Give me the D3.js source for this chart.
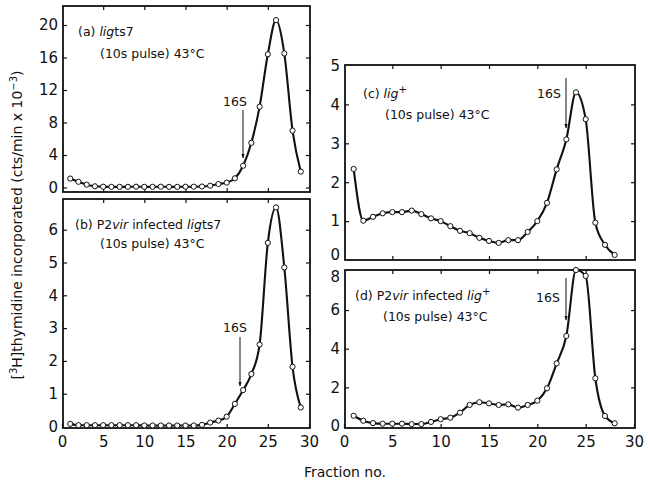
<!DOCTYPE html>
<html><head><meta charset="utf-8">
<script src="https://cdn.jsdelivr.net/npm/d3@7"></script>
<style>body{margin:0;background:#fff}svg{display:block}text{font-family:"DejaVu Sans",sans-serif;fill:#111}</style>
</head><body><svg id="c" width="648" height="482"></svg>
<script>
// ---------- data ----------
const fractionsLeft = [1,2,3,4,5,6,7,8,9,10,11,12,13,14,15,16,17,18,19,20,21,22,23,24,25,26,27,28,29];
const fractionsRight = [1,2,3,4,5,6,7,8,9,10,11,12,13,14,15,16,17,18,19,20,21,22,23,24,25,26,27,28];
const valuesA = [1.1,0.7,0.35,0.15,0.1,0.08,0.08,0.08,0.1,0.08,0.08,0.1,0.08,0.08,0.1,0.1,0.12,0.22,0.43,0.6,1.13,2.68,5.5,9.95,16.4,20.6,16.5,7.0,1.95];
const valuesB = [0.08,0.04,0.04,0.04,0.04,0.04,0.04,0.04,0.04,0.03,0.03,0.03,0.03,0.03,0.03,0.03,0.05,0.12,0.18,0.3,0.69,1.11,1.6,2.5,5.6,6.68,4.85,1.82,0.58];
const valuesC = [2.34,1.01,1.11,1.2,1.23,1.23,1.27,1.18,1.07,1.0,0.87,0.75,0.69,0.57,0.49,0.44,0.51,0.51,0.72,1.0,1.47,2.33,3.1,4.31,3.62,0.96,0.39,0.13];
const valuesD = [0.53,0.27,0.15,0.12,0.12,0.12,0.1,0.1,0.21,0.35,0.43,0.69,1.09,1.23,1.17,1.09,1.12,0.95,1.09,1.31,1.95,3.24,4.66,8.07,7.77,2.47,0.52,0.14];
const xTicks = [0,5,10,15,20,25,30];
const yTicksA = [0,4,8,12,16,20];
const yTicksB = [0,1,2,3,4,5,6];
const yTicksC = [0,1,2,3,4,5];
const yTicksD = [0,2,4,6,8];

const svg = d3.select("#c");
svg.append("defs").append("marker").attr("id","ah").attr("viewBox","0 0 10 10")
  .attr("refX",9).attr("refY",5).attr("markerWidth",5).attr("markerHeight",7).attr("orient","auto")
  .append("path").attr("d","M0,1.5L10,5L0,8.5").attr("fill","#111");

const panels = [
  {fx:[63,310], fy:[6,192], xr:[62,309], yd:[0,20], yr:[187.5,25], yt:yTicksA, fr:fractionsLeft, v:valuesA, lbl:false, nudgeTop:0, nudgeBot:0,
   l1:[{t:"(a) "},{t:"lig",i:1},{t:"ts7"}], l1p:[78,36], l2p:[100,58], s16:[223,106], ar:[243,110,158]},
  {fx:[63,310], fy:[199,428], xr:[62,309], yd:[0,6], yr:[426.5,229.7], yt:yTicksB, fr:fractionsLeft, v:valuesB, lbl:true, nudgeTop:0, nudgeBot:0,
   l1:[{t:"(b) P2"},{t:"vir",i:1},{t:" infected "},{t:"lig",i:1},{t:"ts7"}], l1p:[75,229], l2p:[100,248], s16:[223,332], ar:[240,337,386]},
  {fx:[345,635], fy:[65,260], xr:[344,634], yd:[0,5], yr:[260,65.5], yt:yTicksC, fr:fractionsRight, v:valuesC, lbl:false, nudgeTop:0, nudgeBot:-5,
   l1:[{t:"(c) "},{t:"lig",i:1},{t:"+",s:1}], l1p:[363,98], l2p:[385,119], s16:[537,98], ar:[566,78,128]},
  {fx:[345,635], fy:[270,428], xr:[344,634], yd:[0,8], yr:[426,271.4], yt:yTicksD, fr:fractionsRight, v:valuesD, lbl:true, nudgeTop:5, nudgeBot:0,
   l1:[{t:"(d) P2"},{t:"vir",i:1},{t:" infected "},{t:"lig",i:1},{t:"+",s:1}], l1p:[355,300], l2p:[383,321], s16:[536,302], ar:[566,278,320]}
];

panels.forEach((p,k)=>{
  const x = d3.scaleLinear().domain([0,30]).range(p.xr);
  const y = d3.scaleLinear().domain(p.yd).range(p.yr);
  const g = svg.append("g");
  const inner = xTicks.filter(t=>t>0&&t<30);
  const top = g.append("g").attr("transform",`translate(0,${p.fy[0]})`)
    .call(d3.axisTop(x).tickValues(inner).tickSize(-4).tickFormat(""));
  const bot = g.append("g").attr("transform",`translate(0,${p.fy[1]})`)
    .call(d3.axisBottom(x).tickValues(p.lbl?xTicks:inner).tickSize(-4).tickPadding(8).tickFormat(p.lbl?d3.format("d"):""));
  const left = g.append("g").attr("transform",`translate(${p.fx[0]},0)`)
    .call(d3.axisLeft(y).tickValues(p.yt).tickSize(-4).tickPadding(5).tickFormat(d3.format("d")));
  const right = g.append("g").attr("transform",`translate(${p.fx[1]},0)`)
    .call(d3.axisRight(y).tickValues(p.yt.filter(t=>y(t)>p.fy[0]+3&&y(t)<p.fy[1]-3)).tickSize(-4).tickFormat(""));
  [top,bot,left,right].forEach(a=>{
    a.select(".domain").remove();
    a.selectAll("line").attr("stroke","#111").attr("stroke-width",1.2);
    a.selectAll("text").style("font-size","15px").attr("fill","#111");
  });
  left.selectAll(".tick line").filter(d=>y(d)>p.fy[1]-3||y(d)<p.fy[0]+3).remove();
  const yMax = p.yt[p.yt.length-1];
  left.selectAll(".tick text").attr("transform",d=>d===yMax?`translate(0,${p.nudgeTop})`:(d===0?`translate(0,${p.nudgeBot})`:null));
  g.append("rect").attr("x",p.fx[0]).attr("y",p.fy[0]).attr("width",p.fx[1]-p.fx[0]).attr("height",p.fy[1]-p.fy[0])
    .attr("fill","none").attr("stroke","#111").attr("stroke-width",1.8);
  const pts = p.fr.map((f,i)=>[f,p.v[i]]);
  g.append("path").datum(pts).attr("fill","none").attr("stroke","#111").attr("stroke-width",2.1)
    .attr("d",d3.line().x(d=>x(d[0])).y(d=>y(d[1])).curve(d3.curveMonotoneX));
  g.selectAll("circle").data(pts).join("circle").attr("cx",d=>x(d[0])).attr("cy",d=>y(d[1])).attr("r",2.6)
    .attr("fill","#fff").attr("stroke","#111").attr("stroke-width",1);
  const t1 = g.append("text").attr("x",p.l1p[0]).attr("y",p.l1p[1]).style("font-size","12.5px");
  p.l1.forEach(s=>{
    const ts = t1.append("tspan").text(s.t);
    if(s.i) ts.style("font-style","italic");
    if(s.s) ts.attr("dy",-5).style("font-size","10px");
  });
  g.append("text").attr("x",p.l2p[0]).attr("y",p.l2p[1]).style("font-size","12.5px").text("(10s pulse) 43°C");
  g.append("text").attr("x",p.s16[0]).attr("y",p.s16[1]).style("font-size","12.5px").text("16S");
  g.append("line").attr("x1",p.ar[0]).attr("x2",p.ar[0]).attr("y1",p.ar[1]).attr("y2",p.ar[2])
    .attr("stroke","#111").attr("stroke-width",1).attr("marker-end","url(#ah)");
});

svg.append("text").attr("x",345).attr("y",477).attr("text-anchor","middle").style("font-size","14px").text("Fraction no.");
const yl = svg.append("text").attr("transform","translate(22,225) rotate(-90)").attr("text-anchor","middle").style("font-size","14px");
yl.append("tspan").text("[");
yl.append("tspan").attr("dy",-5).style("font-size","10px").text("3");
yl.append("tspan").attr("dy",5).text("H]thymidine incorporated (cts/min x 10");
yl.append("tspan").attr("dy",-5).style("font-size","10px").text("−3");
yl.append("tspan").attr("dy",5).text(")");
</script></body></html>
